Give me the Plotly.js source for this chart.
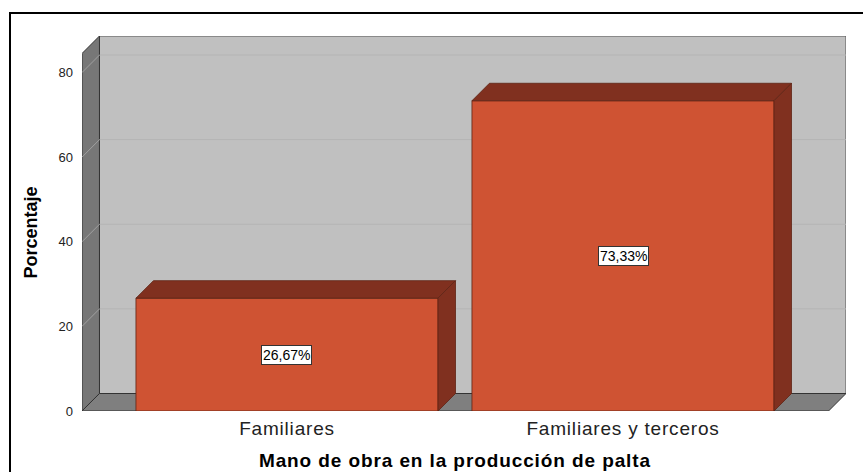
<!DOCTYPE html>
<html>
<head>
<meta charset="utf-8">
<script src="https://cdn.plot.ly/plotly-3.0.1.min.js"></script>
<style>
  html, body { margin: 0; padding: 0; background: #fff; }
  #wrap { position: relative; width: 863px; height: 472px; overflow: hidden; }
  #chart { position: absolute; left: 0; top: 0; width: 863px; height: 472px; }
  #frame { position: absolute; left: 9px; top: 12px; width: 900px; height: 500px;
           border-left: 2px solid #000; border-top: 2px solid #000; pointer-events: none; }
  #chart .xtick text { letter-spacing: 0.8px; }
  #chart g.annotation[data-index="2"] text { letter-spacing: 0.9px; }
</style>
</head>
<body>
<div id="wrap"><div id="chart"></div><div id="frame"></div></div>
<script>
// ---- data ----
const categories = ["Familiares", "Familiares y terceros"];
const values = [26.67, 73.33];
const valueLabels = ["26,67%", "73,33%"];
const yTickVals = [0, 20, 40, 60, 80];
const xTitle = "Mano de obra en la producción de palta";
const yTitle = "Porcentaje";

// ---- geometry / style ----
const X_L = -0.6101, X_R = 1.6637;   // axis range
const DX = 0.052, DY = 4.136;        // 3D depth offset
const Y_FRONT_TOP = 84.5;
const BAR_W = 0.899;
const xPos = categories.map((c, i) => i);

const FRONT = "#CF5333", DARK = "#80301F", EDGE = "#5e2314";
const WALL_BACK = "#C0C0C0", WALL_LEFT = "#777777", FLOOR = "#7f7f7f";

function path(pts) {
  return "M " + pts.map(p => p[0] + "," + p[1]).join(" L ") + " Z";
}

const shapes = [];
// back wall
shapes.push({type: "path", layer: "below", xref: "x", yref: "y",
  path: path([[X_L + DX, DY], [X_R, DY], [X_R, Y_FRONT_TOP + DY], [X_L + DX, Y_FRONT_TOP + DY]]),
  fillcolor: WALL_BACK, line: {color: "#555", width: 1}});
// left wall
shapes.push({type: "path", layer: "below", xref: "x", yref: "y",
  path: path([[X_L, 0], [X_L + DX, DY], [X_L + DX, Y_FRONT_TOP + DY], [X_L, Y_FRONT_TOP]]),
  fillcolor: WALL_LEFT, line: {color: "#333", width: 1}});
// gridlines
yTickVals.filter(v => v > 0).forEach(v => {
  shapes.push({type: "line", layer: "below", xref: "x", yref: "y",
    x0: X_L + DX, x1: X_R, y0: v + DY, y1: v + DY, line: {color: "#b4b4b4", width: 1}});
  shapes.push({type: "line", layer: "below", xref: "x", yref: "y",
    x0: X_L, x1: X_L + DX, y0: v, y1: v + DY, line: {color: "#a0a0a0", width: 1}});
});
// floor
shapes.push({type: "path", layer: "below", xref: "x", yref: "y",
  path: path([[X_L, 0], [X_R - DX, 0], [X_R, DY], [X_L + DX, DY]]),
  fillcolor: FLOOR, line: {color: "#333", width: 1}});

const traces = [];
// front faces
traces.push({type: "bar", x: xPos, y: values, width: BAR_W,
  marker: {color: FRONT, line: {color: EDGE, width: 0.8}},
  hoverinfo: "skip", showlegend: false});
// tops & sides
values.forEach((v, i) => {
  const x0 = xPos[i] - BAR_W / 2, x1 = xPos[i] + BAR_W / 2;
  traces.push({type: "scatter", mode: "lines", fill: "toself", fillcolor: DARK,
    x: [x0, x1, x1 + DX, x0 + DX, x0], y: [v, v, v + DY, v + DY, v],
    line: {color: EDGE, width: 0.8}, hoverinfo: "skip", showlegend: false});
  traces.push({type: "scatter", mode: "lines", fill: "toself", fillcolor: DARK,
    x: [x1, x1 + DX, x1 + DX, x1, x1], y: [0, DY, v + DY, v, 0],
    line: {color: EDGE, width: 0.8}, hoverinfo: "skip", showlegend: false});
});

const annotations = values.map((v, i) => ({
  x: xPos[i], y: v / 2, xref: "x", yref: "y", text: valueLabels[i], showarrow: false,
  bgcolor: "#fff", bordercolor: "#333", borderwidth: 1, borderpad: 1,
  font: {family: "Liberation Sans, Arial, sans-serif", size: 14, color: "#000"}
}));
annotations.push({x: (xPos[0] + xPos[1]) / 2, xref: "x", y: -0.1307, yref: "paper",
  text: "<b>" + xTitle + "</b>", showarrow: false, yanchor: "middle",
  font: {family: "Liberation Sans, Arial, sans-serif", size: 19, color: "#000"}});
annotations.push({x: -0.068, xref: "paper", y: 0.476, yref: "paper", textangle: -90,
  text: "<b>" + yTitle + "</b>", showarrow: false, xanchor: "center", yanchor: "middle",
  font: {family: "Liberation Sans, Arial, sans-serif", size: 18, color: "#000"}});

const layout = {
  width: 863, height: 472,
  margin: {l: 82, r: 17, t: 36, b: 61, pad: 0},
  paper_bgcolor: "#fff", plot_bgcolor: "rgba(0,0,0,0)",
  showlegend: false,
  xaxis: {range: [X_L, X_R], tickvals: xPos, ticktext: categories, showgrid: false,
    zeroline: false, showline: false, ticks: "", ticklabelstandoff: 4,
    tickfont: {family: "Liberation Sans, Arial, sans-serif", size: 19, color: "#222"}},
  yaxis: {range: [0, Y_FRONT_TOP + DY], tickvals: yTickVals, showgrid: false,
    zeroline: false, showline: false, ticks: "", ticklabelstandoff: 8,
    tickfont: {family: "Liberation Sans, Arial, sans-serif", size: 13, color: "#222"}},
  shapes: shapes,
  annotations: annotations
};

Plotly.newPlot("chart", traces, layout, {displayModeBar: false, staticPlot: true});
</script>
</body>
</html>
